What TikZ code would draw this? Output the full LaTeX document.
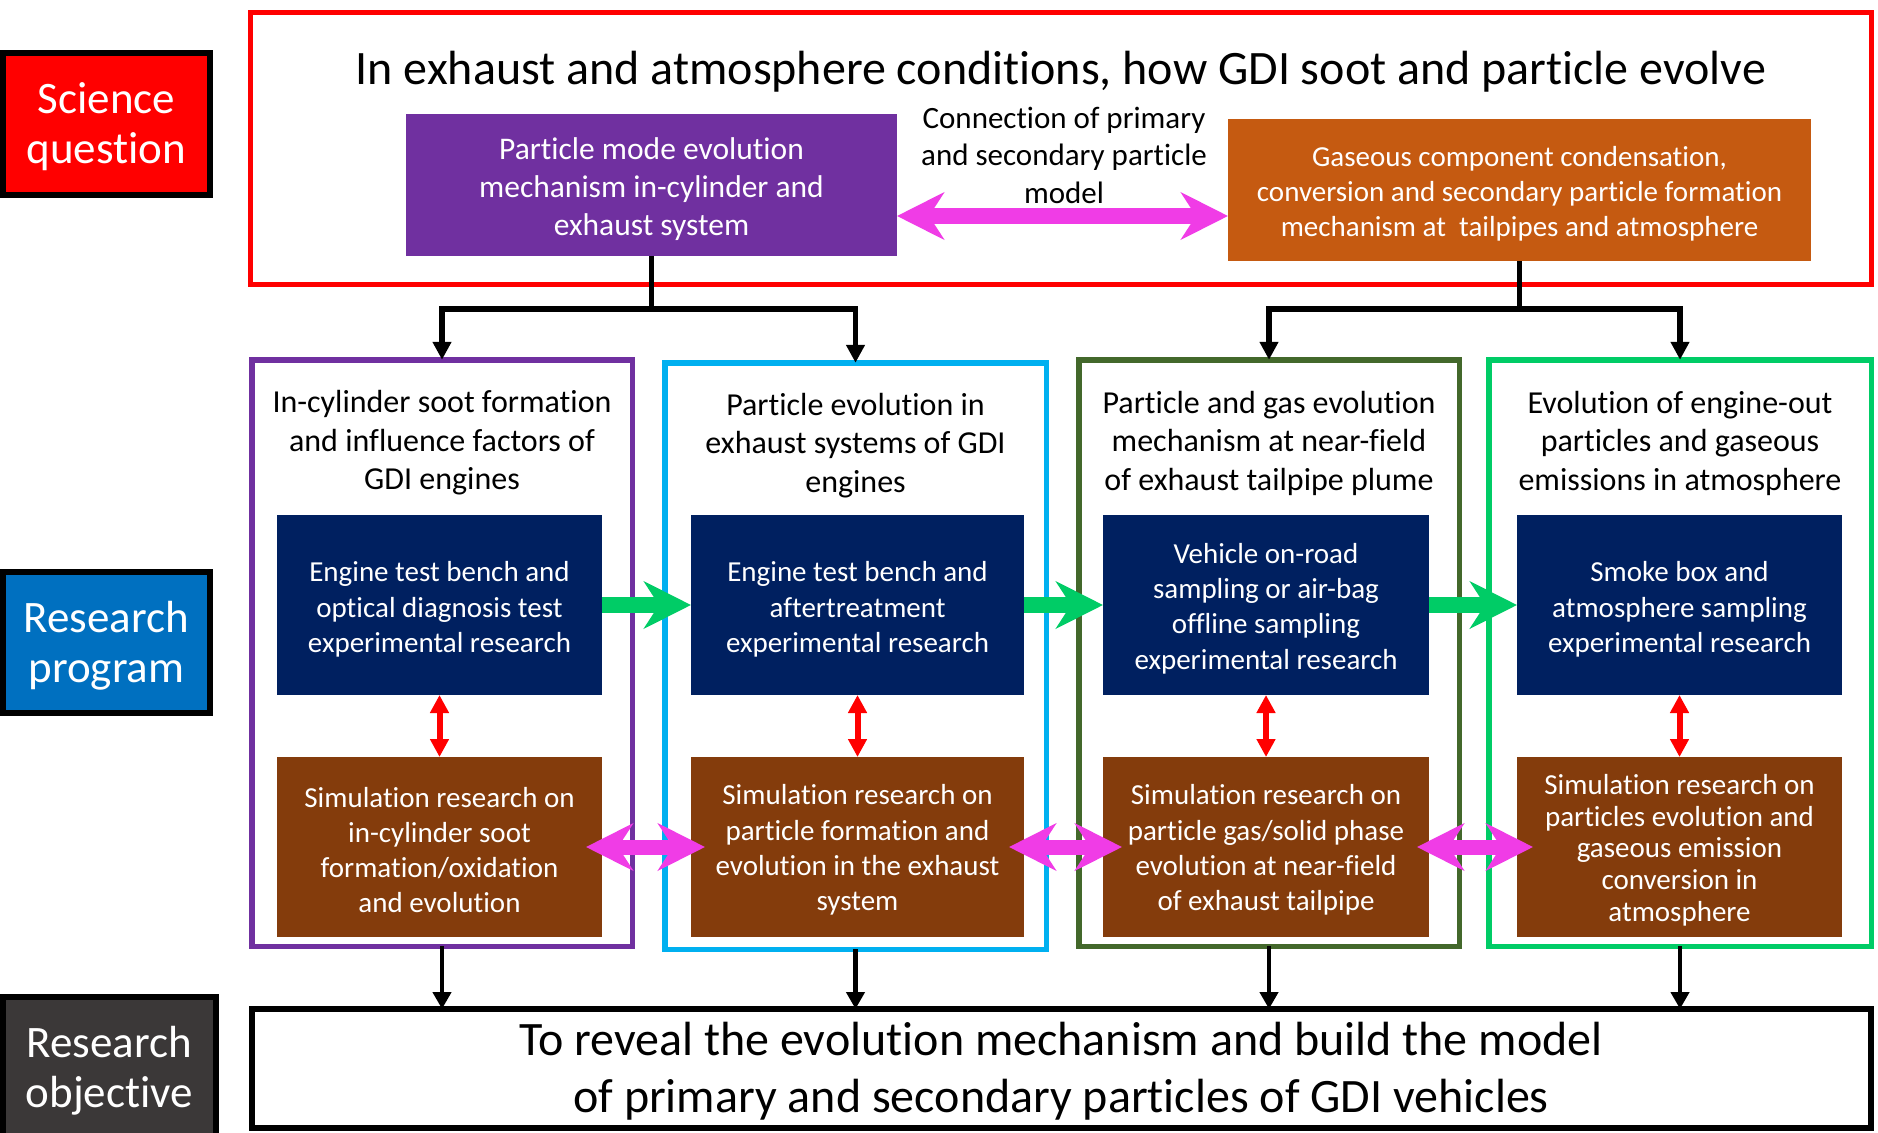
\documentclass[tikz,border=0pt]{standalone}
\usepackage{fontspec}
\setmainfont{Carlito}[Ligatures=NoCommon]
\usetikzlibrary{arrows.meta}
\definecolor{sqred}{HTML}{FF0000}
\definecolor{rpblue}{HTML}{0070C0}
\definecolor{rogrey}{HTML}{3B3838}
\definecolor{purp}{HTML}{7030A0}
\definecolor{orng}{HTML}{C55A11}
\definecolor{navy}{HTML}{002060}
\definecolor{brwn}{HTML}{843C0C}
\definecolor{cyanb}{HTML}{00B0F0}
\definecolor{dgreen}{HTML}{43682B}
\definecolor{bgreen}{HTML}{00CC66}
\definecolor{magc}{HTML}{F03CE6}
\tikzset{
  labbox/.style={draw=black, line width=6pt, inner sep=0pt, outer sep=0pt},
  labtxt/.style={inner sep=0pt, text=white, align=center, font=\fontsize{45}{50}\selectfont},
  fbox/.style={inner sep=0pt, outer sep=0pt},
  wtxt/.style={inner sep=0pt, align=center, text=white},
  colbox/.style={draw, line width=5.5pt, inner sep=0pt, outer sep=0pt, minimum height=586.5pt},
  navybox/.style={fbox, fill=navy, minimum height=180pt},
  brownbox/.style={fbox, fill=brwn, minimum height=180pt},
  btxt/.style={wtxt, font=\fontsize{29}{35.3}\selectfont},
  coltitle/.style={inner sep=0pt, align=center, text=black, font=\fontsize{32}{38.5}\selectfont},
  greenarr/.style={draw=bgreen, line width=16pt, -{Stealth[length=47pt, width=47pt, inset=15pt]}},
  magarr/.style={draw=magc, line width=15pt, {Stealth[length=47pt, width=47pt, inset=15pt]}-{Stealth[length=47pt, width=47pt, inset=15pt]}},
  redarr/.style={draw=sqred, line width=6pt, {Triangle[width=18pt,length=18pt]}-{Triangle[width=18pt,length=18pt]}},
  tree/.style={draw=black, line width=5.5pt},
  treearr/.style={tree, -{Triangle[width=18pt,length=18pt]}},
  downarr/.style={draw=black, line width=4.5pt, -{Triangle[width=18pt,length=17pt]}}
}
\begin{document}
\begin{tikzpicture}[x=1pt,y=-1pt]
\useasboundingbox (0,0) rectangle (1878,1132);
\fill[white] (0,0) rectangle (1878,1132);
% left labels
\node[labbox, fill=sqred, minimum width=207pt, minimum height=142pt] (lsq) at (106.5,124) {};
\node[labtxt] (lsqt) at (106.5,127) {Science\\question};
\node[labbox, fill=rpblue, minimum width=207pt, minimum height=141pt] (lrp) at (106.5,642.5) {};
\node[labtxt] (lrpt) at (106.5,645.5) {Research\\program};
\node[labbox, fill=rogrey, minimum width=213pt, minimum height=153pt] (lro) at (109.5,1073.5) {};
\node[labtxt] (lrot) at (109.5,1071) {Research\\objective};
% science question frame
\node[draw=sqred, line width=5pt, inner sep=0pt, outer sep=0pt, minimum width=1621pt, minimum height=272pt] (sqframe) at (1061,148.5) {};
\node[inner sep=0pt, font=\fontsize{48}{57}\selectfont] (title) at (1061,72) {In exhaust and atmosphere conditions, how GDI soot and particle evolve};
\node[fbox, fill=purp, minimum width=491pt, minimum height=142pt] (purple) at (651.5,185) {};
\node[wtxt, font=\fontsize{31.5}{38}\selectfont] (purplet) at (651.5,189) {Particle mode evolution\\mechanism in-cylinder and\\exhaust system};
\node[fbox, fill=orng, minimum width=583pt, minimum height=142pt] (orange) at (1519.5,190) {};
\node[wtxt, font=\fontsize{29}{35}\selectfont] (oranget) at (1519.5,194) {Gaseous component condensation,\\conversion and secondary particle formation\\mechanism at\ \ tailpipes and atmosphere};
\node[inner sep=0pt, align=center, font=\fontsize{31}{37.5}\selectfont] (conn) at (1064,155) {Connection of primary\\and secondary particle\\model};
\draw[magarr, line width=16pt] ([yshift=-31pt]purple.east) -- ([yshift=-26pt]orange.west);
% columns
\node[colbox, draw=purp, minimum width=380.5pt] (col1) at (442,653) {};
\node[colbox, draw=cyanb, minimum width=381.5pt] (col2) at (855.5,656) {};
\node[colbox, draw=dgreen, minimum width=380.5pt] (col3) at (1269,653) {};
\node[colbox, draw=bgreen, minimum width=382.5pt] (col4) at (1680,653) {};
\node[coltitle] (t1) at (442,443) {In-cylinder soot formation\\and influence factors of\\GDI engines};
\node[coltitle] (t2) at (855.5,445.5) {Particle evolution in\\exhaust systems of GDI\\engines};
\node[coltitle] (t3) at (1269,443) {Particle and gas evolution\\mechanism at near-field\\of exhaust tailpipe plume};
\node[coltitle] (t4) at (1680,443) {Evolution of engine-out\\particles and gaseous\\emissions in atmosphere};
% experimental boxes
\node[navybox, minimum width=325pt] (e1) at (439.5,605) {};
\node[navybox, minimum width=333pt] (e2) at (857.5,605) {};
\node[navybox, minimum width=326pt] (e3) at (1266,605) {};
\node[navybox, minimum width=325pt] (e4) at (1679.5,605) {};
\node[btxt] (e1t) at ([yshift=-4.5pt]e1.center) {Engine test bench and\\optical diagnosis test\\experimental research};
\node[btxt] (e2t) at ([yshift=-4.5pt]e2.center) {Engine test bench and\\aftertreatment\\experimental research};
\node[btxt] (e3t) at ([yshift=-3.5pt]e3.center) {Vehicle on-road\\sampling or air-bag\\offline sampling\\experimental research};
\node[btxt] (e4t) at ([yshift=-4.5pt]e4.center) {Smoke box and\\atmosphere sampling\\experimental research};
% simulation boxes
\node[brownbox, minimum width=325pt] (s1) at (439.5,847) {};
\node[brownbox, minimum width=333pt] (s2) at (857.5,847) {};
\node[brownbox, minimum width=326pt] (s3) at (1266,847) {};
\node[brownbox, minimum width=325pt] (s4) at (1679.5,847) {};
\node[btxt] (s1t) at ([yshift=-3pt]s1.center) {Simulation research on\\in-cylinder soot\\formation/oxidation\\and evolution};
\node[btxt] (s2t) at ([yshift=-3pt]s2.center) {Simulation research on\\particle formation and\\evolution in the exhaust\\system};
\node[btxt] (s3t) at ([yshift=-3pt]s3.center) {Simulation research on\\particle gas/solid phase\\evolution at near-field\\of exhaust tailpipe};
\node[btxt, font=\fontsize{29}{31.7}\selectfont] (s4t) at ([yshift=-3pt]s4.center) {Simulation research on\\particles evolution and\\gaseous emission\\conversion in\\atmosphere};
% red vertical arrows
\draw[redarr] (e1.south) -- (s1.north);
\draw[redarr] (e2.south) -- (s2.north);
\draw[redarr] (e3.south) -- (s3.north);
\draw[redarr] (e4.south) -- (s4.north);
% green arrows
\draw[greenarr] (e1.east) -- (e2.west);
\draw[greenarr] (e2.east) -- (e3.west);
\draw[greenarr] (e3.east) -- (e4.west);
% magenta arrows
\draw[magarr, shorten <=-16pt, shorten >=-14pt] (s1.east) -- (s2.west);
\draw[magarr, shorten <=-15pt, shorten >=-19pt] (s2.east) -- (s3.west);
\draw[magarr, shorten <=-12pt, shorten >=-16pt] (s3.east) -- (s4.west);
% tree connectors
\coordinate (hy) at (0,309);
\draw[tree] (purple.south) -- (purple.south |- hy);
\draw[treearr] (purple.south |- hy) -| (col1.north);
\draw[treearr] (purple.south |- hy) -| (col2.north);
\draw[tree] (orange.south) -- (orange.south |- hy);
\draw[treearr] (orange.south |- hy) -| (col3.north);
\draw[treearr] (orange.south |- hy) -| (col4.north);
% objective
\node[draw=black, line width=6pt, inner sep=0pt, outer sep=0pt, minimum width=1619pt, minimum height=119pt] (obj) at (1061.5,1068.5) {};
\node[inner sep=0pt, align=center, font=\fontsize{48}{57.5}\selectfont] (objt) at (1061,1071) {To reveal the evolution mechanism and build the model\\of primary and secondary particles of GDI vehicles};
\draw[downarr] (col1.south) -- (col1.south |- obj.north);
\draw[downarr] (col2.south) -- (col2.south |- obj.north);
\draw[downarr] (col3.south) -- (col3.south |- obj.north);
\draw[downarr] (col4.south) -- (col4.south |- obj.north);
\end{tikzpicture}
\end{document}
